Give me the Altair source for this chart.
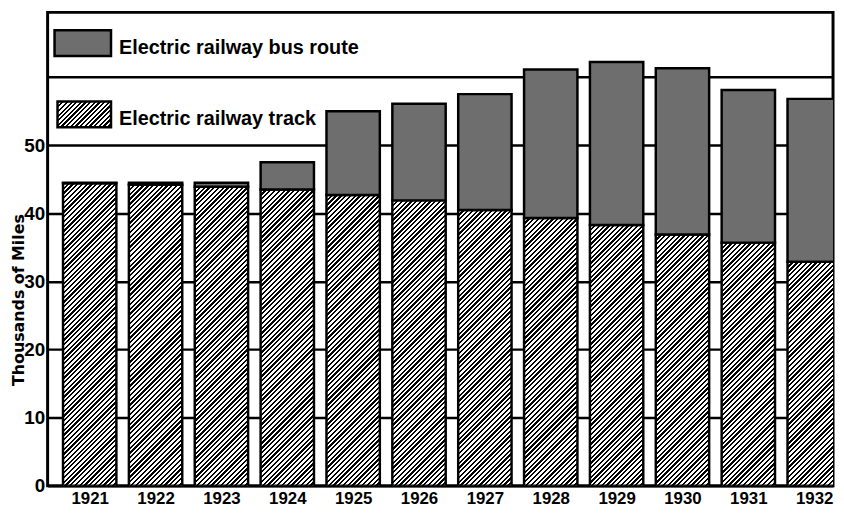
import math
import altair as alt
import pandas as pd

# ---- data ----
years = [1921, 1922, 1923, 1924, 1925, 1926, 1927, 1928, 1929, 1930, 1931, 1932]
track = [44.4, 44.2, 43.9, 43.5, 42.7, 41.9, 40.5, 39.3, 38.3, 36.9, 35.7, 32.9]
bus = [0.1, 0.3, 0.6, 4.0, 12.3, 14.2, 17.0, 21.8, 23.9, 24.4, 22.4, 23.9]
y_ticks = [0, 10, 20, 30, 40, 50, 60]
legend_labels = ["Electric railway bus route", "Electric railway track"]
y_title = "Thousands of Miles"

# ---- layout / style ----
W, H = 793, 478
YMAX = 69.5
X0, X1 = 1920.361, 1932.286
HALF = 0.405
PX_PER_UNIT = H / YMAX
BAR_W = 2 * HALF * W / (X1 - X0)
STIPPLE = "#6e6e6e"
FONT = "Liberation Sans"


def hatch(w, h, period=3.4, frac=0.47):
    """Diagonal '/' hatching built as a hard-stop linear gradient for a w x h box."""
    r = h / w
    s = (1 + r) / (1 + r * r)
    L = (w + h) / math.sqrt(2)
    n = max(1, int(round(L / period)))
    stops = []
    for k in range(n):
        a = k / n
        b = (k + frac) / n
        c = (k + 1) / n
        stops += [
            {"offset": a, "color": "black"},
            {"offset": b, "color": "black"},
            {"offset": b, "color": "white"},
            {"offset": min(c, 1.0), "color": "white"},
        ]
    return {"gradient": "linear", "x1": 0, "y1": 0, "x2": s, "y2": s * r, "stops": stops}


df = pd.DataFrame({"year": years, "track": track, "bus": bus})
base = alt.Chart(df).transform_calculate(
    total="datum.track + datum.bus",
    xl=f"datum.year - {HALF}",
    xr=f"datum.year + {HALF}",
    zero="0",
)

x_enc = alt.X(
    "xl:Q",
    scale=alt.Scale(domain=[X0, X1], nice=False, zero=False),
    axis=alt.Axis(
        values=years, format="d", title=None, ticks=False, domain=False, grid=False,
        labelFont=FONT, labelFontSize=17, labelFontWeight="bold", labelColor="black",
        labelPadding=5,
    ),
)
y_axis = alt.Axis(
    values=y_ticks, labelExpr="datum.value <= 50 ? datum.label : ''",
    grid=True, gridColor="black", gridWidth=2.5, gridOpacity=1,
    ticks=False, domain=False,
    labelFont=FONT, labelFontSize=19, labelFontWeight="bold", labelColor="black",
    labelPadding=3,
    title=y_title, titleFont="DejaVu Sans", titleFontSize=16, titleFontWeight="bold",
    titleColor="black", titleAngle=270, titleX=-24, titleY=290,
    titleAlign="center", titleBaseline="alphabetic",
)


def y_enc(field):
    return alt.Y(f"{field}:Q", scale=alt.Scale(domain=[0, YMAX], nice=False), axis=y_axis)


layers = []
for yr, tv in zip(years, track):
    layers.append(
        base.transform_filter(alt.datum.year == yr)
        .mark_bar(fill=hatch(BAR_W, tv * PX_PER_UNIT), stroke="black", strokeWidth=2.5, clip=True)
        .encode(x=x_enc, x2="xr:Q", y=y_enc("zero"), y2="track:Q")
    )

layers.append(
    base.mark_bar(fill=STIPPLE, stroke="black", strokeWidth=2.5, clip=True)
    .encode(x=x_enc, x2="xr:Q", y=y_enc("track"), y2="total:Q")
)

# ---- legend (drawn inside the frame) ----
leg_bus = pd.DataFrame({"label": [legend_labels[0]]})
leg_track = pd.DataFrame({"label": [legend_labels[1]]})

layers.append(
    alt.Chart(leg_bus).mark_rect(fill=STIPPLE, stroke="black", strokeWidth=2.5)
    .encode(x=alt.value(7), x2=alt.value(64), y=alt.value(18), y2=alt.value(44))
)
layers.append(
    alt.Chart(leg_bus).mark_text(align="left", baseline="alphabetic", font=FONT,
                                 fontSize=20, fontWeight="bold", color="black")
    .encode(x=alt.value(72), y=alt.value(42), text="label:N")
)
layers.append(
    alt.Chart(leg_track).mark_rect(fill=hatch(54, 26), stroke="black", strokeWidth=2.5)
    .encode(x=alt.value(10), x2=alt.value(64), y=alt.value(90), y2=alt.value(116))
)
layers.append(
    alt.Chart(leg_track).mark_text(align="left", baseline="alphabetic", font=FONT,
                                   fontSize=20, fontWeight="bold", color="black")
    .encode(x=alt.value(72), y=alt.value(114), text="label:N")
)

chart = (
    alt.layer(*layers)
    .properties(
        width=W, height=H,
        padding={"left": 40, "top": 2, "right": 3, "bottom": 20},
        autosize=alt.AutoSizeParams(type="none"),
        background="white",
    )
    .configure_view(stroke="black", strokeWidth=3)
)

chart.save("out.html", embed_options={"renderer": "svg", "actions": False})
